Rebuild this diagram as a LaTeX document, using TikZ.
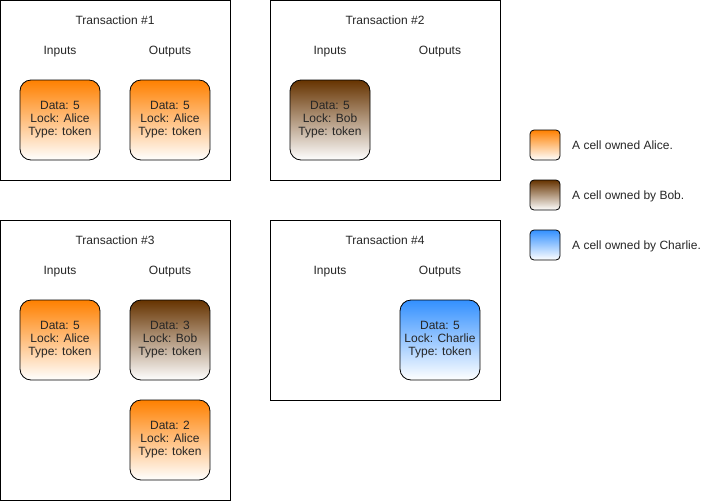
\documentclass[tikz,border=0pt]{standalone}
\usepackage{fontspec}
\setmainfont{Liberation Sans}
\begin{document}
\begin{tikzpicture}[x=1pt,y=-1pt,
  every node/.style={font=\fontsize{12}{13}\selectfont, inner sep=0pt, text=black!85},
  lbl/.style={anchor=base},
  txbox/.style={draw=black, line width=0.8pt, fill=white},
  cell/.style={draw=black, line width=0.8pt, rounded corners=11pt, minimum width=80pt, minimum height=80pt, align=center, bottom color=white},
  alice/.style={cell, top color=orangeT},
  bob/.style={cell, top color=bobT},
  charlie/.style={cell, top color=charlieT},
  legcell/.style={draw=black, line width=0.8pt, rounded corners=4pt, minimum width=30pt, minimum height=30pt, bottom color=white},
  legtext/.style={anchor=base west}
]
\definecolor{orangeT}{HTML}{FF8000}
\definecolor{bobT}{HTML}{663300}
\definecolor{charlieT}{HTML}{3390FF}
\useasboundingbox (0,0) rectangle (721,501);
% Transaction boxes
\draw[txbox] (0.5,0.5) rectangle (230,180);
\draw[txbox] (270,0.5) rectangle (500,180);
\draw[txbox] (0.5,220) rectangle (230,500);
\draw[txbox] (270,220) rectangle (500,400);
% Titles
\node[lbl] (t1) at (115,24) {Transaction \#1};
\node[lbl] (t2) at (385,24) {Transaction \#2};
\node[lbl] (t3) at (115,244) {Transaction \#3};
\node[lbl] (t4) at (385,244) {Transaction \#4};
% Inputs/Outputs
\node[lbl] (i1) at (60,54) {Inputs};
\node[lbl] (o1) at (170,54) {Outputs};
\node[lbl] (i2) at (330,54) {Inputs};
\node[lbl] (o2) at (440,54) {Outputs};
\node[lbl] (i3) at (60,274) {Inputs};
\node[lbl] (o3) at (170,274) {Outputs};
\node[lbl] (i4) at (330,274) {Inputs};
\node[lbl] (o4) at (440,274) {Outputs};
% Cells
\node[alice] (c1i) at (60,120) {Data: 5\\Lock: Alice\\Type: token};
\node[alice] (c1o) at (170,120) {Data: 5\\Lock: Alice\\Type: token};
\node[bob] (c2i) at (330,120) {Data: 5\\Lock: Bob\\Type: token};
\node[alice] (c3i) at (60,340) {Data: 5\\Lock: Alice\\Type: token};
\node[bob] (c3o1) at (170,340) {Data: 3\\Lock: Bob\\Type: token};
\node[alice] (c3o2) at (170,440) {Data: 2\\Lock: Alice\\Type: token};
\node[charlie] (c4o) at (440,340) {Data: 5\\Lock: Charlie\\Type: token};
% Legend
\node[legcell, top color=orangeT] (la) at (545,145) {};
\node[legcell, top color=bobT] (lb) at (545,195) {};
\node[legcell, top color=charlieT] (lc) at (545,245) {};
\node[legtext] (lat) at (572,149) {A cell owned Alice.};
\node[legtext] (lbt) at (572,199) {A cell owned by Bob.};
\node[legtext] (lct) at (572,249) {A cell owned by Charlie.};
\end{tikzpicture}
\end{document}
